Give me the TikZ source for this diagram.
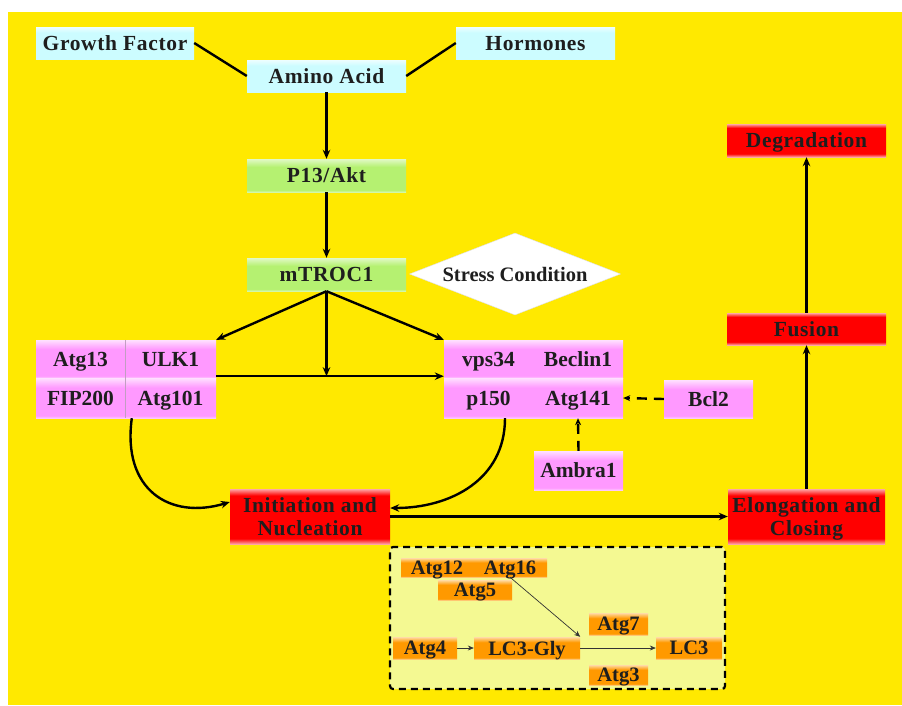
\documentclass[tikz,border=0pt]{standalone}
\usepackage{fontspec}
\setmainfont{Liberation Serif}
\newfontfamily\trackfont{Liberation Serif}[LetterSpace=3]
\usetikzlibrary{shapes.geometric,arrows.meta,calc}
\definecolor{bgyellow}{HTML}{FFE900}
\definecolor{ccyan}{HTML}{CCFCFF}
\definecolor{cgreen}{HTML}{B5F171}
\definecolor{cpink}{HTML}{FF99FF}
\definecolor{cred}{HTML}{FF0000}
\definecolor{corange}{HTML}{FF9900}
\definecolor{boxfill}{HTML}{F4F992}
\definecolor{txt}{HTML}{1E1E1E}
\pgfdeclareverticalshading{glasscyan}{100bp}{color(0bp)=(ccyan); color(25bp)=(ccyan); color(66bp)=(ccyan); color(75bp)=(ccyan!35!white); color(100bp)=(ccyan!35!white)}
\pgfdeclareverticalshading{glassgreen}{100bp}{color(0bp)=(cgreen!60!white); color(25bp)=(cgreen!60!white); color(28bp)=(cgreen); color(63bp)=(cgreen); color(75bp)=(cgreen!40!white); color(100bp)=(cgreen!40!white)}
\pgfdeclareverticalshading{glasspink}{100bp}{color(0bp)=(cpink!55!white); color(25bp)=(cpink!55!white); color(28bp)=(cpink); color(63bp)=(cpink); color(75bp)=(cpink!30!white); color(100bp)=(cpink!30!white)}
\pgfdeclareverticalshading{glassred}{100bp}{color(0bp)=(cred!35!white); color(25bp)=(cred!35!white); color(30bp)=(cred); color(69bp)=(cred); color(75bp)=(cred!35!white); color(100bp)=(cred!35!white)}
\pgfdeclareverticalshading{glassorange}{100bp}{color(0bp)=(corange!55!white); color(25bp)=(corange!55!white); color(28bp)=(corange); color(63bp)=(corange); color(75bp)=(corange!35!white); color(100bp)=(corange!35!white)}
\tikzset{
  basebox/.style={rectangle, inner sep=0pt, text=txt, align=center, text depth=0pt},
  bigfont/.style={font=\trackfont\bfseries\fontsize{21.5}{23}\selectfont},
  cyanbox/.style={basebox, bigfont, shade, shading=glasscyan},
  greenbox/.style={basebox, bigfont, shade, shading=glassgreen},
  redbox/.style={basebox, bigfont, shade, shading=glassred},
  pinkbox/.style={basebox, font=\bfseries\fontsize{21.5}{23}\selectfont, shade, shading=glasspink},
  orangebox/.style={basebox, font=\bfseries\fontsize{20.5}{22}\selectfont, shade, shading=glassorange},
  arr/.style={line width=2.4pt, -{Stealth[length=9pt,width=7.5pt]}},
  plainline/.style={line width=2.4pt},
  dasharr/.style={line width=2.4pt, dash pattern=on 10pt off 7pt, -{Stealth[length=7pt,width=6pt]}},
  thinarr/.style={line width=0.7pt, black!80, -{Stealth[length=6pt,width=5pt]}},
  divline/.style={line width=0.5pt, draw=cpink!60!black!60}
}
\begin{document}
\begin{tikzpicture}[x=1pt,y=-1pt]
\useasboundingbox (0,0) rectangle (902,705);
\fill[white] (0,0) rectangle (902,705);
\fill[bgyellow] (8,12) rectangle (902,705);

% top nodes
\node[cyanbox, minimum width=158, minimum height=32] (gf) at (115,43) {Growth Factor};
\node[cyanbox, minimum width=159, minimum height=32] (horm) at (535.5,43) {Hormones};
\node[cyanbox, minimum width=159, minimum height=32] (amino) at (326.5,76) {Amino Acid};
\node[greenbox, minimum width=159, minimum height=33] (pakt) at (326.5,175.5) {P13/Akt};
\node[greenbox, minimum width=159, minimum height=33] (mtor) at (326.5,274.5) {mTROC1};
\node[diamond, aspect=2.57, fill=white, draw=black!12, line width=0.4pt, inner sep=0pt,
      minimum width=211, minimum height=82, text=txt, text depth=0pt,
      font=\bfseries\fontsize{20.5}{22}\selectfont] (stress) at (515,274) {Stress Condition};

% ULK complex
\node[pinkbox, minimum width=89, minimum height=38] (atg13) at (80.5,359) {Atg13};
\node[pinkbox, minimum width=91, minimum height=38] (ulk1) at (170.5,359) {ULK1};
\node[pinkbox, minimum width=89, minimum height=40] (fip200) at (80.5,398) {FIP200};
\node[pinkbox, minimum width=91, minimum height=40] (atg101) at (170.5,398) {Atg101};
\draw[divline] (atg13.north east) -- (fip200.south east);

% Vps34 complex
\node[pinkbox, minimum width=89, minimum height=38] (vps34) at (488.5,359) {vps34};
\node[pinkbox, minimum width=90, minimum height=38] (beclin) at (578,359) {Beclin1};
\node[pinkbox, minimum width=89, minimum height=40] (p150) at (488.5,398) {p150};
\node[pinkbox, minimum width=90, minimum height=40] (atg141) at (578,398) {Atg141};

\node[pinkbox, minimum width=89, minimum height=38] (bcl2) at (708.5,399) {Bcl2};
\node[pinkbox, minimum width=89, minimum height=39] (ambra) at (578.5,470.5) {Ambra1};

% red stages
\node[redbox, minimum width=160, minimum height=55] (init) at (310,516.5) {Initiation and\\Nucleation};
\node[redbox, minimum width=157, minimum height=55] (elong) at (806.5,516.5) {Elongation and\\Closing};
\node[redbox, minimum width=159, minimum height=32] (fusion) at (806.5,329) {Fusion};
\node[redbox, minimum width=159, minimum height=33] (degr) at (806.5,140.5) {Degradation};

% dashed box
\node[draw, line width=2.2pt, dash pattern=on 7pt off 5pt, fill=boxfill, rounded corners=3pt,
      minimum width=335, minimum height=142, inner sep=0pt] (phag) at (557.5,618) {};
\node[orangebox, minimum width=72, minimum height=19] (atg12) at (437,567.5) {Atg12};
\node[orangebox, minimum width=74, minimum height=19] (atg16) at (510,567.5) {Atg16};
\node[orangebox, minimum width=74, minimum height=20] (atg5) at (475,590) {Atg5};
\node[orangebox, minimum width=64, minimum height=22] (atg4) at (425,648) {Atg4};
\node[orangebox, minimum width=106, minimum height=22] (lc3gly) at (527,648) {LC3-Gly};
\node[orangebox, minimum width=59, minimum height=22] (atg7) at (618.5,624) {Atg7};
\node[orangebox, minimum width=59, minimum height=20] (atg3) at (618.5,675) {Atg3};
\node[orangebox, minimum width=66, minimum height=22] (lc3) at (689,648) {LC3};

% connectors
\draw[plainline] (gf.east) -- (amino.west);
\draw[plainline] (horm.west) -- (amino.east);
\draw[arr] (amino.south) -- (pakt.north);
\draw[arr] (pakt.south) -- (mtor.north);
\coordinate (junc) at ($(mtor.south)+(0,85)$);
\draw[arr] (mtor.south) -- (ulk1.north east);
\draw[arr] (mtor.south) -- (vps34.north west);
\draw[arr] (mtor.south) -- (junc);
\draw[arr] ($(ulk1.south east)+(0,-2)$) -- ($(vps34.south west)+(0,-2)$);
\draw[dasharr] (bcl2.west) -- (atg141.east);
\draw[dasharr] (ambra.north) -- (atg141.south);
\draw[arr] ($(atg101.south west)+(7,0)$) .. controls (122,490) and (170,520) .. ($(init.west)+(0,-14.5)$);
\draw[arr] ($(p150.south)+(16.5,0)$) .. controls (505,480) and (450,508) .. ($(init.east)+(0,-8.5)$);
\draw[arr] (init.east) -- (elong.west);
\draw[arr] (elong.north) -- (fusion.south);
\draw[arr] (fusion.north) -- (degr.south);
\draw[thinarr] (atg4.east) -- (lc3gly.west);
\draw[thinarr] (lc3gly.east) -- (lc3.west);
\draw[thinarr] (atg16.south) -- (lc3gly.north east);
\end{tikzpicture}
\end{document}
